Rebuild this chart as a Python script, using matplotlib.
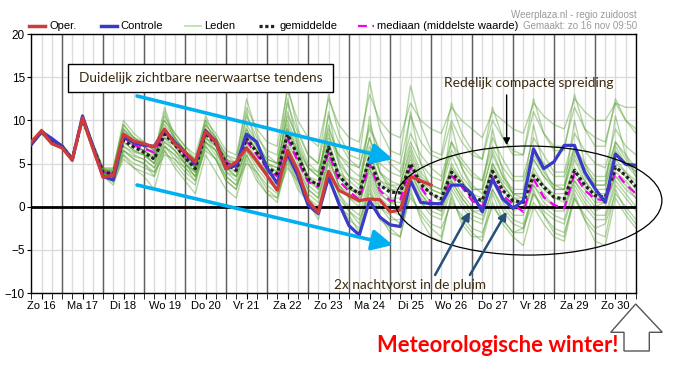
import numpy as np
import matplotlib.pyplot as plt
from matplotlib.patches import Ellipse, Rectangle, Polygon
from matplotlib.lines import Line2D

# pluim temperatuur regio zuidoost, run zo 16 nov, elke 6 uur vanaf 16 nov 06:00
day_labels = ['Zo 16', 'Ma 17', 'Di 18', 'Wo 19', 'Do 20', 'Vr 21', 'Za 22', 'Zo 23',
              'Ma 24', 'Di 25', 'Wo 26', 'Do 27', 'Vr 28', 'Za 29', 'Zo 30']

oper = [7.5, 8.8, 7.3, 6.8, 5.4, 10.3, 6.8, 3.4, 3.6, 8.4, 7.6, 7.3, 6.9, 9.0, 7.3, 6.3,
        5.2, 8.7, 7.5, 4.4, 5.2, 6.8, 5.3, 3.6, 1.9, 6.5, 4.2, 0.7, -0.7, 4.1, 1.9, 1.3,
        0.7, 0.9, 0.8, -0.6, -0.4, 3.5, 3.0, 2.5]

controle = [7.2, 8.7, 7.9, 7.0, 5.4, 10.5, 7.0, 3.5, 3.1, 8.2, 7.4, 7.1, 7.0, 8.9, 7.5, 6.3,
            5.0, 8.8, 7.6, 4.4, 4.8, 8.4, 7.5, 4.5, 2.7, 6.1, 3.6, 0.2, -0.8, 3.4, 0.4, -2.2,
            -3.3, 0.7, -1.2, -2.1, -2.3, 3.0, 0.5, 0.35, 0.35, 2.5, 2.5, 1.5, -0.6, 3.2, 0.9, -0.2,
            0.7, 6.7, 4.4, 5.2, 7.1, 7.1, 4.0, 2.1, 0.5, 6.1, 4.9, 4.8]

gemiddelde = [7.3, 8.7, 7.5, 7.0, 5.5, 10.2, 7.0, 4.0, 3.8, 7.7, 6.9, 6.3, 5.5, 8.4, 7.2, 5.7,
              4.4, 8.5, 7.3, 5.0, 4.2, 7.9, 6.3, 4.6, 3.8, 8.4, 5.9, 3.2, 2.5, 6.9, 3.6, 2.3,
              1.5, 5.6, 2.5, 1.7, 1.6, 5.0, 2.6, 1.5, 0.9, 4.0, 2.6, 1.1, 0.7, 4.1, 1.9, 0.7,
              0.5, 3.6, 2.3, 1.1, 0.9, 4.2, 2.5, 1.3, 1.1, 4.6, 3.6, 2.3]

mediaan = [7.3, 8.7, 7.4, 7.0, 5.5, 10.2, 7.0, 4.0, 3.8, 8.0, 7.2, 6.7, 6.3, 8.6, 7.4, 6.0,
           4.8, 8.6, 7.3, 5.2, 4.4, 7.6, 6.0, 4.4, 3.5, 7.9, 5.3, 2.9, 2.3, 6.3, 3.0, 1.8,
           0.8, 5.0, 1.9, 0.7, 0.7, 4.6, 2.3, 0.5, 0.2, 3.6, 2.3, 0.7, 0.0, 3.4, 1.3, 0.3,
           -0.6, 3.2, 1.1, 0.2, -0.2, 3.8, 1.9, 0.9, 0.7, 4.0, 2.6, 1.5]

leden = [
    [7.5, 9.0, 7.8, 7.2, 5.8, 10.6, 7.5, 4.5, 4.5, 9.5, 8.0, 7.5, 6.5, 10.5, 8.5, 7.0,
     6.0, 10.0, 8.5, 6.5, 6.0, 11.5, 9.0, 7.5, 7.0, 13.5, 10.0, 8.0, 7.0, 12.5, 9.5, 8.0,
     7.5, 13.0, 10.0, 8.5, 8.0, 12.0, 10.0, 9.0, 8.5, 11.5, 10.0, 9.0, 8.0, 11.0, 10.0, 9.0,
     8.5, 12.0, 10.5, 9.5, 9.0, 12.5, 11.0, 10.0, 10.0, 12.0, 11.5, 11.5],
    [7.0, 8.4, 7.2, 6.8, 5.2, 9.8, 6.5, 3.5, 2.5, 6.0, 4.5, 3.5, 2.0, 6.5, 4.5, 3.0,
     1.5, 6.0, 4.0, 2.0, 1.0, 5.5, 3.0, 1.5, 1.0, 5.0, 2.0, 0.5, -1.5, 3.5, 0.0, -1.0,
     -3.0, 2.0, -1.5, -2.5, -3.5, 1.5, -1.0, -2.5, -3.5, 1.0, -1.5, -3.0, -4.0, 0.5, -2.0, -3.5,
     -4.5, 0.0, -2.0, -3.5, -4.0, 1.0, -1.5, -3.0, -3.5, 2.0, -0.5, -2.0],
    [7.3, 8.8, 7.5, 7.0, 5.5, 10.3, 7.0, 4.0, 3.8, 8.0, 7.2, 6.5, 5.8, 9.0, 7.5, 6.0,
     4.5, 9.0, 7.5, 5.0, 4.0, 8.5, 6.5, 4.5, 3.5, 9.5, 6.5, 3.5, 2.0, 7.5, 4.0, 2.5,
     1.0, 6.5, 3.0, 2.0, 1.5, 6.0, 3.0, 1.5, 0.5, 5.0, 3.0, 1.0, 0.0, 5.0, 2.5, 1.0,
     0.5, 4.5, 2.5, 1.0, 0.5, 5.5, 3.0, 1.5, 1.0, 5.5, 4.0, 2.5],
    [7.2, 8.6, 7.4, 7.1, 5.6, 10.0, 6.8, 3.8, 3.5, 7.0, 6.0, 5.5, 4.5, 7.5, 6.5, 5.0,
     3.5, 8.0, 6.5, 4.0, 3.0, 7.0, 5.0, 3.5, 3.0, 7.5, 5.0, 2.5, 1.5, 6.0, 2.5, 1.0,
     0.5, 4.5, 1.5, 0.5, 0.0, 4.0, 1.5, 0.0, -0.5, 3.0, 1.0, -0.5, -1.0, 3.0, 0.5, -1.0,
     -1.0, 2.5, 0.5, -0.5, -0.5, 3.0, 1.0, -0.5, 0.0, 3.5, 2.0, 1.0],
    [7.4, 8.9, 7.6, 7.2, 5.7, 10.5, 7.3, 4.3, 4.2, 8.8, 7.8, 7.0, 6.2, 9.5, 8.0, 6.5,
     5.0, 9.5, 8.0, 6.0, 5.0, 9.5, 7.5, 5.5, 5.0, 10.5, 8.0, 5.0, 4.0, 9.0, 6.0, 4.5,
     3.5, 8.0, 5.0, 4.0, 3.5, 7.5, 5.0, 3.5, 3.0, 6.5, 5.0, 3.5, 3.0, 7.0, 4.5, 3.0,
     3.0, 6.5, 5.0, 3.5, 3.5, 7.0, 5.0, 3.5, 3.5, 7.5, 6.0, 4.5],
    [7.1, 8.5, 7.3, 6.9, 5.3, 10.0, 6.7, 3.7, 3.0, 6.5, 5.5, 5.0, 4.0, 7.0, 6.0, 4.5,
     3.0, 7.5, 6.0, 3.5, 2.5, 6.5, 4.5, 3.0, 2.0, 6.5, 4.0, 1.5, 0.5, 5.0, 1.5, 0.0,
     -1.0, 3.5, 0.5, -0.5, -1.0, 3.0, 0.5, -1.0, -1.5, 2.0, 0.0, -1.5, -2.0, 2.0, -0.5, -2.0,
     -2.5, 1.5, -0.5, -1.5, -2.0, 2.0, 0.0, -1.5, -1.5, 2.5, 1.0, -0.5],
    [7.3, 8.7, 7.5, 7.0, 5.5, 10.4, 7.1, 4.2, 4.0, 9.0, 7.5, 6.0, 5.0, 11.0, 7.5, 5.0,
     4.0, 10.0, 7.0, 4.5, 3.5, 11.0, 7.0, 4.0, 3.0, 12.5, 7.0, 3.0, 2.0, 11.0, 5.0, 2.0,
     1.5, 10.5, 4.0, 2.0, 2.0, 11.0, 5.0, 2.0, 1.5, 9.5, 4.5, 2.0, 2.0, 9.0, 4.0, 1.5,
     1.5, 9.5, 4.5, 2.0, 2.0, 10.0, 5.0, 2.5, 2.5, 10.5, 6.0, 3.5],
    [7.2, 8.7, 7.4, 7.0, 5.4, 10.1, 6.9, 3.9, 3.2, 6.0, 5.0, 4.5, 4.0, 6.0, 5.5, 4.5,
     3.5, 6.5, 5.5, 3.5, 2.5, 5.0, 4.0, 2.5, 1.5, 4.5, 3.0, 1.0, 0.0, 3.0, 1.0, -0.5,
     -1.5, 1.5, 0.0, -1.0, -2.0, 1.0, -0.5, -2.0, -2.5, 0.5, -1.0, -2.5, -3.0, 0.0, -1.5, -3.0,
     -2.5, 0.5, -1.0, -2.5, -3.0, 1.0, -1.0, -2.5, -2.0, 1.5, 0.0, -1.5],
    [7.4, 8.8, 7.6, 7.1, 5.6, 10.2, 7.2, 4.4, 4.0, 8.5, 7.5, 7.0, 6.0, 9.0, 7.5, 6.0,
     5.0, 9.0, 7.5, 5.5, 4.5, 9.0, 7.0, 5.0, 4.5, 11.0, 7.5, 4.5, 3.5, 9.5, 5.5, 3.5,
     2.5, 8.0, 4.0, 3.0, 2.5, 7.0, 4.0, 2.5, 2.0, 7.5, 4.5, 2.5, 1.5, 6.5, 3.5, 1.5,
     1.0, 5.5, 3.5, 2.0, 2.0, 6.0, 3.5, 2.0, 2.0, 7.0, 5.0, 3.5],
    [7.2, 8.6, 7.3, 6.9, 5.4, 10.2, 6.9, 3.9, 3.6, 7.5, 6.5, 6.0, 5.0, 8.0, 6.5, 5.0,
     4.0, 8.0, 7.0, 4.5, 4.0, 7.5, 5.5, 4.0, 3.5, 8.0, 5.5, 3.0, 2.5, 6.5, 3.5, 2.0,
     1.5, 5.0, 2.0, 1.0, 1.0, 4.5, 2.0, 0.5, 0.0, 3.5, 1.5, 0.0, 0.0, 3.5, 1.0, 0.0,
     -0.5, 3.0, 1.5, 0.0, 0.0, 3.5, 2.0, 0.5, 0.5, 4.0, 3.0, 1.5],
    [7.3, 8.7, 7.5, 7.0, 5.5, 10.2, 7.0, 4.0, 3.8, 7.5, 6.5, 6.0, 5.5, 8.0, 7.0, 5.5,
     4.5, 8.0, 7.0, 5.0, 4.5, 8.0, 6.5, 5.0, 4.5, 9.0, 6.5, 4.5, 4.0, 8.0, 6.0, 5.0,
     4.5, 9.0, 6.5, 5.5, 5.0, 10.5, 7.5, 6.0, 5.5, 10.0, 7.5, 6.0, 5.5, 10.0, 8.0, 6.5,
     6.0, 11.0, 8.5, 7.0, 7.0, 11.5, 9.0, 8.0, 7.5, 12.0, 10.0, 9.0],
    [7.1, 8.5, 7.2, 6.8, 5.3, 9.9, 6.6, 3.6, 2.8, 5.5, 4.5, 4.0, 3.5, 6.5, 5.0, 3.5,
     2.5, 7.0, 5.5, 3.0, 2.0, 6.0, 4.0, 2.0, 1.0, 5.5, 3.0, 1.0, -0.5, 4.0, 1.5, -0.5,
     -2.0, 3.0, 0.0, -1.5, -1.5, 3.5, 1.0, 0.0, 0.0, 4.5, 2.5, 1.0, 0.5, 5.0, 3.0, 1.5,
     1.5, 6.0, 4.0, 2.5, 2.0, 7.0, 4.5, 3.0, 3.0, 7.5, 5.5, 4.0],
    [7.3, 8.7, 7.5, 7.0, 5.6, 10.3, 7.1, 4.1, 4.3, 9.0, 8.0, 7.3, 6.5, 10.0, 8.5, 7.0,
     5.5, 9.5, 8.0, 6.0, 5.5, 10.5, 8.0, 6.5, 6.0, 12.0, 8.5, 6.0, 5.0, 10.5, 7.5, 5.5,
     4.5, 9.5, 6.5, 5.0, 4.0, 8.5, 6.0, 4.5, 3.5, 7.5, 5.5, 4.0, 3.0, 8.0, 5.5, 3.5,
     3.5, 8.0, 6.0, 4.0, 4.0, 8.5, 6.5, 5.0, 4.5, 9.0, 7.0, 6.0],
    [7.2, 8.6, 7.4, 7.0, 5.5, 10.1, 6.9, 3.9, 3.5, 7.0, 6.3, 6.0, 5.0, 7.5, 6.5, 5.5,
     4.0, 7.5, 6.5, 4.5, 3.5, 7.0, 5.5, 4.0, 3.0, 7.0, 4.5, 2.0, 1.0, 5.5, 2.5, 1.5,
     0.5, 4.0, 1.0, 0.0, -0.5, 3.0, 0.5, -0.5, -1.0, 2.5, 0.5, -1.0, -1.5, 2.0, 0.0, -1.5,
     -2.0, 1.5, 0.0, -1.0, -1.5, 2.5, 0.5, -1.0, -1.0, 3.0, 1.5, 0.0],
    [7.4, 8.8, 7.6, 7.2, 5.7, 10.4, 7.2, 4.2, 4.0, 8.0, 7.0, 6.5, 5.5, 8.5, 7.0, 5.5,
     4.5, 9.0, 7.5, 5.5, 4.5, 8.5, 6.5, 4.5, 4.0, 9.0, 6.0, 3.5, 3.0, 7.5, 4.0, 3.0,
     2.0, 6.0, 3.0, 2.5, 2.0, 5.5, 3.0, 2.0, 1.5, 4.5, 3.0, 1.5, 1.0, 4.5, 2.5, 1.0,
     1.0, 4.0, 2.5, 1.5, 1.5, 4.5, 3.0, 1.5, 1.5, 5.0, 4.0, 3.0],
    [7.3, 8.8, 7.5, 7.1, 5.6, 10.5, 7.3, 4.3, 4.2, 9.5, 8.0, 7.0, 6.0, 11.5, 8.0, 6.5,
     5.0, 10.5, 8.0, 5.5, 5.0, 12.5, 8.5, 6.0, 5.0, 14.0, 9.0, 6.0, 5.0, 13.0, 8.5, 6.0,
     5.5, 14.5, 9.0, 6.5, 6.0, 14.0, 9.5, 6.5, 6.0, 12.0, 8.5, 6.5, 5.5, 11.5, 8.0, 6.0,
     6.0, 12.5, 8.5, 6.5, 6.5, 13.0, 9.0, 7.0, 7.0, 12.5, 10.0, 8.5],
    [7.2, 8.6, 7.3, 6.9, 5.4, 10.0, 6.8, 3.8, 3.0, 6.5, 5.5, 5.0, 3.5, 7.0, 5.5, 4.0,
     3.0, 7.0, 5.5, 3.0, 2.0, 6.0, 3.5, 1.5, 0.5, 5.5, 2.5, 0.5, -1.0, 4.0, 0.5, -1.5,
     -2.5, 2.5, -1.0, -3.0, -3.5, 2.0, -1.5, -3.5, -4.0, 1.5, -2.0, -3.5, -3.5, 1.5, -1.5, -3.0,
     -3.0, 2.0, -1.0, -3.0, -3.5, 1.5, -1.5, -4.0, -4.5, 1.0, -1.0, -2.5],
    [7.3, 8.7, 7.5, 7.0, 5.5, 10.3, 7.1, 4.1, 3.9, 8.0, 7.0, 6.5, 5.5, 8.5, 7.5, 6.0,
     4.5, 8.5, 7.5, 5.0, 4.5, 8.0, 6.5, 5.0, 4.0, 8.5, 6.0, 3.5, 2.5, 7.0, 3.5, 2.5,
     1.5, 5.5, 2.5, 2.0, 1.5, 5.0, 2.5, 1.5, 1.0, 4.0, 2.5, 1.0, 0.5, 4.0, 2.0, 0.5,
     0.5, 3.5, 2.0, 1.0, 1.0, 4.0, 2.5, 1.0, 1.0, 4.5, 3.5, 2.0],
    [7.4, 8.9, 7.6, 7.1, 5.6, 10.6, 7.3, 4.4, 4.4, 10.0, 8.5, 7.5, 6.5, 10.0, 8.0, 6.5,
     5.5, 9.0, 7.5, 5.5, 5.0, 9.0, 7.0, 5.5, 5.0, 10.0, 7.0, 4.5, 3.5, 8.5, 5.0, 3.5,
     3.0, 7.0, 4.0, 2.5, 2.5, 6.5, 3.5, 2.5, 2.0, 6.0, 3.5, 2.0, 2.0, 6.0, 3.5, 2.0,
     2.0, 5.5, 3.5, 2.5, 2.5, 6.5, 4.0, 2.5, 2.5, 6.5, 5.0, 4.0],
    [7.2, 8.6, 7.3, 7.0, 5.4, 10.0, 6.8, 3.8, 3.4, 6.5, 5.8, 5.5, 4.5, 7.0, 6.0, 5.0,
     3.5, 7.5, 6.5, 4.0, 3.5, 6.5, 5.0, 3.5, 2.5, 7.0, 4.5, 2.0, 1.0, 5.5, 2.5, 1.0,
     0.0, 4.5, 1.5, 0.5, 0.5, 4.0, 1.5, 0.0, -0.5, 3.0, 1.0, -0.5, -0.5, 3.0, 1.0, -0.5,
     0.0, 2.5, 1.0, 0.0, 0.0, 3.0, 1.5, 0.0, 0.5, 3.5, 2.5, 1.0],
]

t = 0.25 + 0.25 * np.arange(len(controle))   # dagen sinds 16 nov 00:00
t_oper = t[:len(oper)]

fig = plt.figure(figsize=(6.74, 3.70), dpi=100)
ax = fig.add_axes([0.0464, 0.2081, 0.8972, 0.700])

# raster: lichtgrijs elke 6 uur, donker om middernacht
ax.set_xlim(0.25, 15.0)
ax.set_ylim(-10, 20)
ax.set_xticks(np.arange(0.5, 15, 1))
ax.set_xticklabels(day_labels, fontsize=8, family=['Liberation Sans', 'DejaVu Sans'])
ax.set_xticks(np.arange(0.25, 15.01, 0.25), minor=True)
ax.set_yticks(np.arange(-10, 21, 5))
ax.tick_params(axis='y', labelsize=8.5, length=3, pad=1.5)
ax.tick_params(axis='x', which='both', length=4, pad=2)
for lab in ax.get_yticklabels():
    lab.set_family(['Liberation Sans', 'DejaVu Sans'])
ax.grid(axis='x', which='both', color='#dcdcdc', lw=1, zorder=0)
ax.grid(axis='y', which='major', color='#dcdcdc', lw=1, zorder=0)
for d in range(1, 15):
    ax.axvline(d, color='#5e5e5e', lw=1, zorder=1)
ax.set_axisbelow(True)

for m in leden:
    ax.plot(t, m, color='#4d9d25', alpha=0.42, lw=1.0, zorder=2)

ax.axhline(0, color='black', lw=2, zorder=3)
ax.plot(t, mediaan, color='#ee00ee', lw=1.6, dashes=(4, 2.5), zorder=4)
ax.plot(t, gemiddelde, color='#222222', lw=2.3, linestyle=(0, (1, 0.8)),
        dash_capstyle='butt', zorder=5)
ax.plot(t, controle, color='#3a3ac8', lw=2.3, zorder=6)
ax.plot(t_oper, oper, color='#d03a3a', lw=2.3, zorder=7)

for s in ax.spines.values():
    s.set_color('black')
    s.set_linewidth(1)

# annotaties
tekstkleur = '#3d2b10'
ax.add_patch(Rectangle((1.145, 13.28), 6.464, 3.25, fc='white', ec='black', lw=1, zorder=9))
ax.text(4.377, 14.9, 'Duidelijk zichtbare neerwaartse tendens', ha='center', va='center',
        fontsize=9.9, family=['Lato', 'DejaVu Sans'], color=tekstkleur, zorder=10)

blauw = '#00b0f0'
for start, end in [((2.83, 12.82), (9.07, 5.52)), ((2.83, 2.51), (9.07, -4.44))]:
    ax.annotate('', xy=end, xytext=start, zorder=9,
                arrowprops=dict(arrowstyle='-|>,head_length=0.9,head_width=0.45',
                                color=blauw, lw=2.6, shrinkA=0, shrinkB=0, mutation_scale=14))

ax.add_patch(Ellipse((12.377, 0.71), 6.51, 12.63, fill=False, ec='black', lw=0.9,
                     clip_on=False, zorder=8))
ax.text(12.39, 14.33, 'Redelijk compacte spreiding', ha='center', va='center',
        fontsize=9.9, family=['Lato', 'DejaVu Sans'], color=tekstkleur, zorder=10)
ax.annotate('', xy=(11.845, 7.14), xytext=(11.845, 12.94), zorder=9,
            arrowprops=dict(arrowstyle='-|>', color='black', lw=1, shrinkA=0, shrinkB=0,
                            mutation_scale=10))

ax.text(9.49, -9.07, '2x nachtvorst in de pluim', ha='center', va='center',
        fontsize=9.8, family=['Lato', 'DejaVu Sans'], color=tekstkleur, zorder=10)
for start, end in [((10.10, -7.91), (10.95, -0.58)), ((10.95, -7.91), (11.845, -0.58))]:
    ax.annotate('', xy=end, xytext=start, zorder=9,
                arrowprops=dict(arrowstyle='-|>', color='#25507a', lw=1.8, shrinkA=0,
                                shrinkB=0, mutation_scale=12))

# legenda bovenaan
W, H = 674.0, 370.0
ly = 1 - 25.7 / H
legenda = [
    ('Oper.', 29, 49, dict(color='#d03a3a', lw=2.5)),
    ('Controle', 100.6, 120, dict(color='#3a3ac8', lw=2.5)),
    ('Leden', 185, 204, dict(color='#b5dfa5', lw=1.2)),
    ('gemiddelde', 259, 279, dict(color='#222222', lw=2.3, linestyle=(0, (1, 0.8)))),
    ('mediaan (middelste waarde)', 358, 377, dict(color='#ee00ee', lw=1.6, dashes=(4, 2.5))),
]
for label, x0, xt, stijl in legenda:
    fig.add_artist(Line2D([x0 / W, (x0 + 16) / W], [ly, ly], transform=fig.transFigure, **stijl))
    fig.text(xt / W, ly, label, fontsize=8, va='center', ha='left',
             family=['Liberation Sans', 'DejaVu Sans'])

fig.text(637 / W, 1 - 14.5 / H, 'Weerplaza.nl - regio zuidoost', fontsize=7, color='#9a9a9a',
         ha='right', va='center', family=['Liberation Sans', 'DejaVu Sans'])
fig.text(637 / W, ly, 'Gemaakt: zo 16 nov 09:50', fontsize=7, color='#9a9a9a',
         ha='right', va='center', family=['Liberation Sans', 'DejaVu Sans'])

# meteorologische winter
pijl = [(635.7, 304), (662.3, 332.3), (649.3, 332.3), (649.3, 351), (624, 351),
        (624, 332.3), (610.7, 332.3)]
fig.add_artist(Polygon([(x / W, 1 - y / H) for x, y in pijl], closed=True,
                       transform=fig.transFigure, fc='white', ec='#555555', lw=1, zorder=1))
fig.text(498 / W, 1 - 346 / H, 'Meteorologische winter!', color='red', fontsize=15.8,
         fontweight='bold', family=['Lato', 'DejaVu Sans'], ha='center', va='center',
         zorder=5)

fig.savefig('out.png', dpi=100)
